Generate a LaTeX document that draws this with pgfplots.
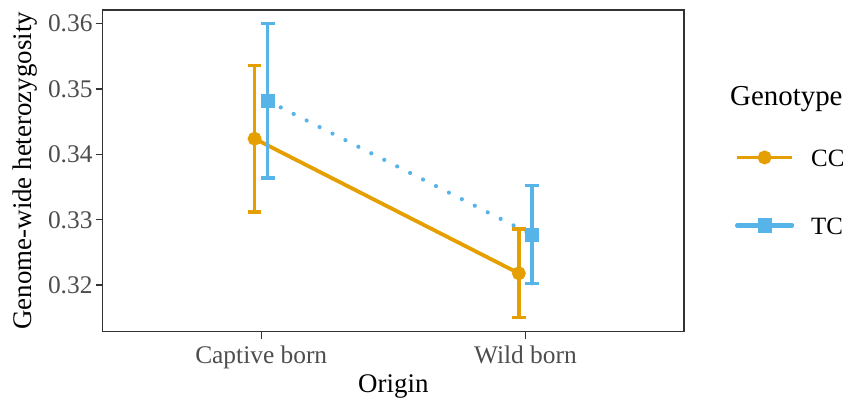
\documentclass[border=0pt]{standalone}
\usepackage{fontspec}
\setmainfont{Liberation Serif}
\usepackage{pgfplots}
\pgfplotsset{compat=1.18}
\definecolor{ccorange}{HTML}{E69F00}
\definecolor{tcblue}{HTML}{56B4E9}
\definecolor{tickgray}{HTML}{4D4D4D}
\definecolor{framegray}{HTML}{333333}

\begin{document}
\begin{tikzpicture}
\useasboundingbox (-102.7bp,-69.5bp) rectangle (748.3bp,331.5bp);
\begin{axis}[
    name=ax,
    at={(0,0)}, anchor=south west,
    scale only axis,
    width=581.3bp, height=321.5bp,
    xmin=0.4, xmax=2.6,
    ymin=0.3129, ymax=0.3621,
    xtick={1,2},
    xticklabels={Captive born, Wild born},
    ytick={0.32,0.33,0.34,0.35,0.36},
    scaled y ticks=false,
    yticklabel style={/pgf/number format/fixed, /pgf/number format/fixed zerofill,
        /pgf/number format/precision=2, anchor=east, inner sep=0pt, xshift=-3bp},
    xticklabel style={anchor=base, inner sep=0pt, yshift=-24.5bp},
    /pgf/number format/assume math mode=true,
    tick label style={font=\fontsize{25.5}{27}\selectfont, text=tickgray},
    tick pos=left,
    tick align=outside,
    major tick length=7bp,
    every tick/.style={framegray, line width=1.3bp},
    axis line style={framegray, line width=1.3bp},
    xlabel={Origin},
    ylabel={Genome-wide heterozygosity},
    label style={font=\fontsize{27}{29}\selectfont},
    xlabel style={at={(axis description cs:0.5,-0.1904)}, anchor=base, inner sep=0pt},
    ylabel style={at={(axis description cs:-0.1233,0.5)}, anchor=base, inner sep=0pt},
    legend style={at={(axis description cs:1,0.5646)}, anchor=north west, xshift=51bp,
        draw=none, fill=none, inner sep=0pt, outer sep=0pt, row sep=51bp,
        font=\fontsize{25}{27}\selectfont,
        nodes={inner sep=0pt, text height=17bp, text depth=0bp}},
    legend cell align=left,
    legend image code/.code={
        \draw[#1, solid, mark repeat=2, mark phase=2]
            plot coordinates {(0bp,1bp) (27.5bp,1bp) (55bp,1bp)};
        \path (72bp,1bp);
    },
]
% CC genotype, dodged left
\addplot[ccorange, line width=3.8bp, mark=*, mark size=5bp,
    error bars/.cd, y dir=both, y explicit,
    error bar style={line width=3.3bp, solid},
    error mark options={rotate=90, line width=3.3bp, mark size=6.7bp}]
    coordinates {
    (0.975,0.3424) +- (0,0.0112)
    (1.975,0.3218) +- (0,0.0068)
};
\addlegendentry{CC}
% TC genotype, dodged right, dotted line
\addplot[tcblue, line width=4.2bp, line cap=round, dash pattern=on 0bp off 14.5bp,
    mark=square*, mark size=5bp, mark options={solid},
    error bars/.cd, y dir=both, y explicit,
    error bar style={line width=3.3bp, solid},
    error mark options={rotate=90, line width=3.3bp, mark size=6.7bp, solid}]
    coordinates {
    (1.025,0.3482) +- (0,0.0118)
    (2.025,0.3277) +- (0,0.0075)
};
\addlegendentry{TC}
\end{axis}
\node[anchor=base west, inner sep=0pt, font=\fontsize{29}{31}\selectfont]
    at ([xshift=46bp, yshift=-96bp]ax.north east) {Genotype};
\end{tikzpicture}
\end{document}
